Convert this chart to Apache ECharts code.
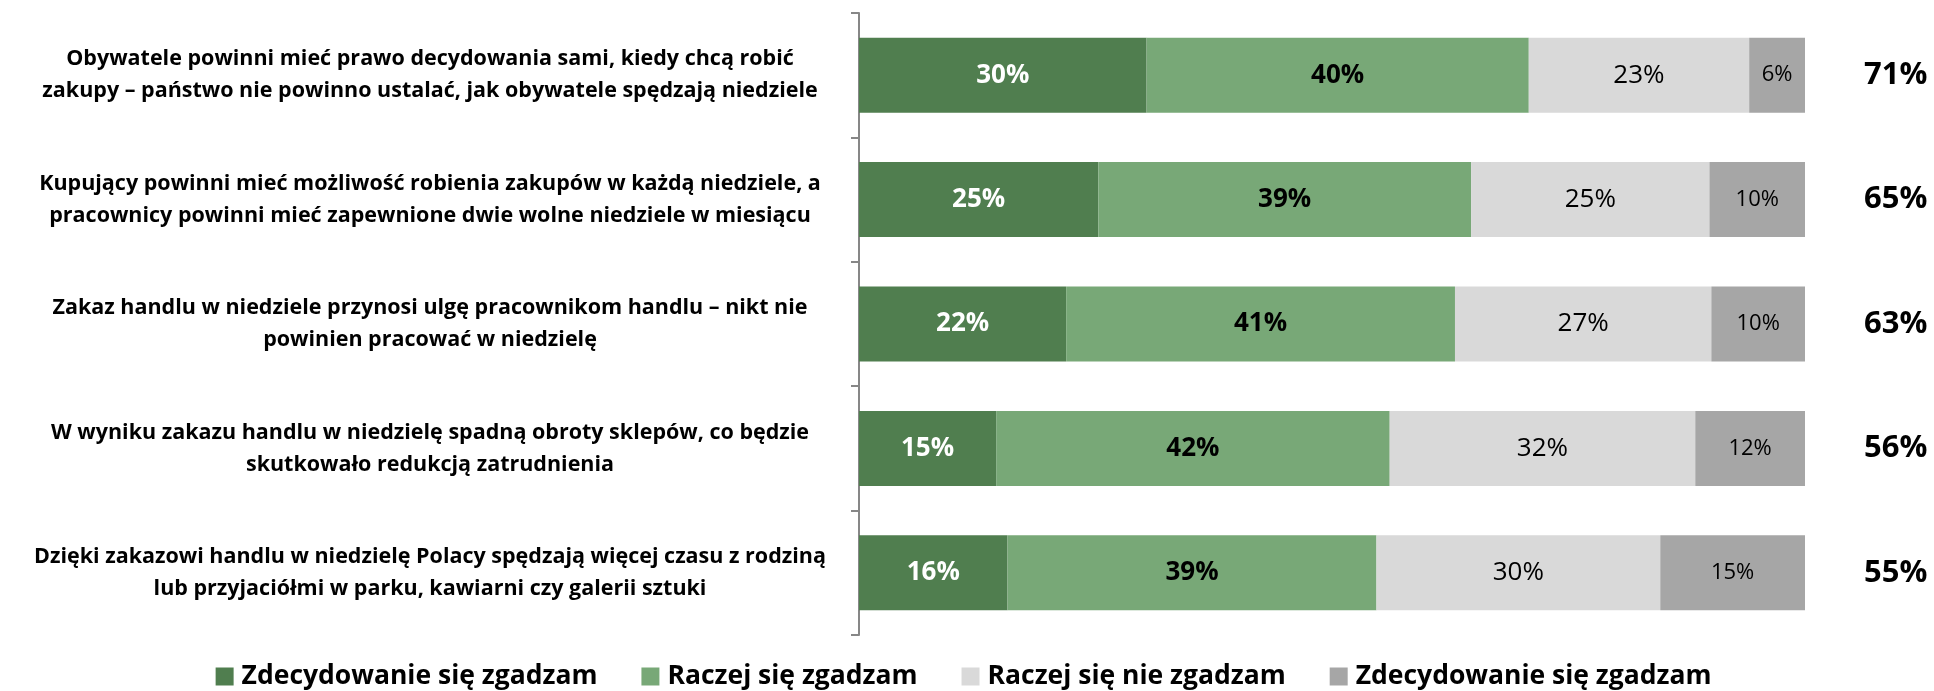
<!DOCTYPE html>
<html lang="pl">
<head>
  <meta charset="utf-8">
  <title>Zakaz handlu w niedziele</title>
  <script src="https://cdn.jsdelivr.net/npm/echarts@6/dist/echarts.min.js"></script>
</head>
<body style="margin: 0;">
  <div id="container" style="width: 1934px; height: 691px;"></div>
  <script type="text/javascript">
    // stwierdzenia (w kolejności od góry)
    var categories = [
      'Obywatele powinni mieć prawo decydowania sami, kiedy chcą robić\nzakupy – państwo nie powinno ustalać, jak obywatele spędzają niedziele',
      'Kupujący powinni mieć możliwość robienia zakupów w każdą niedziele, a\npracownicy powinni mieć zapewnione dwie wolne niedziele w miesiącu',
      'Zakaz handlu w niedziele przynosi ulgę pracownikom handlu – nikt nie\npowinien pracować w niedzielę',
      'W wyniku zakazu handlu w niedzielę spadną obroty sklepów, co będzie\nskutkowało redukcją zatrudnienia',
      'Dzięki zakazowi handlu w niedzielę Polacy spędzają więcej czasu z rodziną\nlub przyjaciółmi w parku, kawiarni czy galerii sztuki'
    ];
    var seriesNames = ['Zdecydowanie się zgadzam', 'Raczej się zgadzam', 'Raczej się nie zgadzam', 'Zdecydowanie się zgadzam\u00a0'];
    var strongAgree = [30.4, 25.3, 21.9, 14.5, 15.7];
    var ratherAgree = [40.4, 39.4, 41.1, 41.6, 39.0];
    var ratherDisagree = [23.3, 25.2, 27.1, 32.3, 30.0];
    var strongDisagree = [5.9, 10.1, 9.9, 11.6, 15.3];
    var totals = ['71%', '65%', '63%', '56%', '55%'];

    var colors = ['#507e4f', '#78a877', '#d9d9d9', '#a6a6a6'];
    var font = '"Open Sans", "Noto Sans", sans-serif';

    var chart = echarts.init(document.getElementById('container'), null, { renderer: 'canvas' });

    function pct(p) { return Math.round(p.value) + '%'; }

    function makeSeries(i, data, labelColor, weight, size) {
      return {
        name: seriesNames[i],
        type: 'bar',
        stack: 'total',
        barWidth: 75,
        data: data,
        itemStyle: { color: colors[i] },
        label: {
          show: true,
          position: 'inside',
          formatter: pct,
          color: labelColor,
          fontFamily: font,
          fontWeight: weight,
          fontSize: size
        },
        emphasis: { disabled: true }
      };
    }

    var option = {
      animation: false,
      color: colors,
      grid: { left: 859, right: 129, top: 13, bottom: 56, outerBoundsMode: 'none' },
      legend: {
        top: 658,
        left: 'center',
        itemWidth: 18,
        itemHeight: 18,
        itemGap: 44,
        icon: 'rect',
        textStyle: { fontFamily: font, fontWeight: 'bold', fontSize: 26.5, color: '#000', padding: [0, 0, 0, 3] },
        data: seriesNames
      },
      xAxis: { type: 'value', min: 0, max: 100, show: false },
      yAxis: [
        {
          type: 'category',
          inverse: true,
          data: categories,
          axisLine: { lineStyle: { color: '#878787', width: 2 } },
          axisTick: { show: true, interval: 0, length: 8, lineStyle: { color: '#878787', width: 2 } },
          axisLabel: {
            align: 'center',
            margin: 429,
            color: '#000',
            fontFamily: font,
            fontWeight: 'bold',
            fontSize: 21.5,
            lineHeight: 32
          }
        },
        {
          type: 'category',
          inverse: true,
          position: 'right',
          data: totals,
          axisLine: { show: false },
          axisTick: { show: false },
          axisLabel: {
            margin: 59,
            color: '#000',
            fontFamily: font,
            fontWeight: 'bold',
            fontSize: 31
          }
        }
      ],
      series: [
        makeSeries(0, strongAgree, '#fff', 'bold', 26),
        makeSeries(1, ratherAgree, '#000', 'bold', 26),
        makeSeries(2, ratherDisagree, '#000', 'normal', 26),
        makeSeries(3, strongDisagree, '#000', 'normal', 22)
      ]
    };

    chart.setOption(option);
    window.addEventListener('resize', chart.resize);
  </script>
</body>
</html>
